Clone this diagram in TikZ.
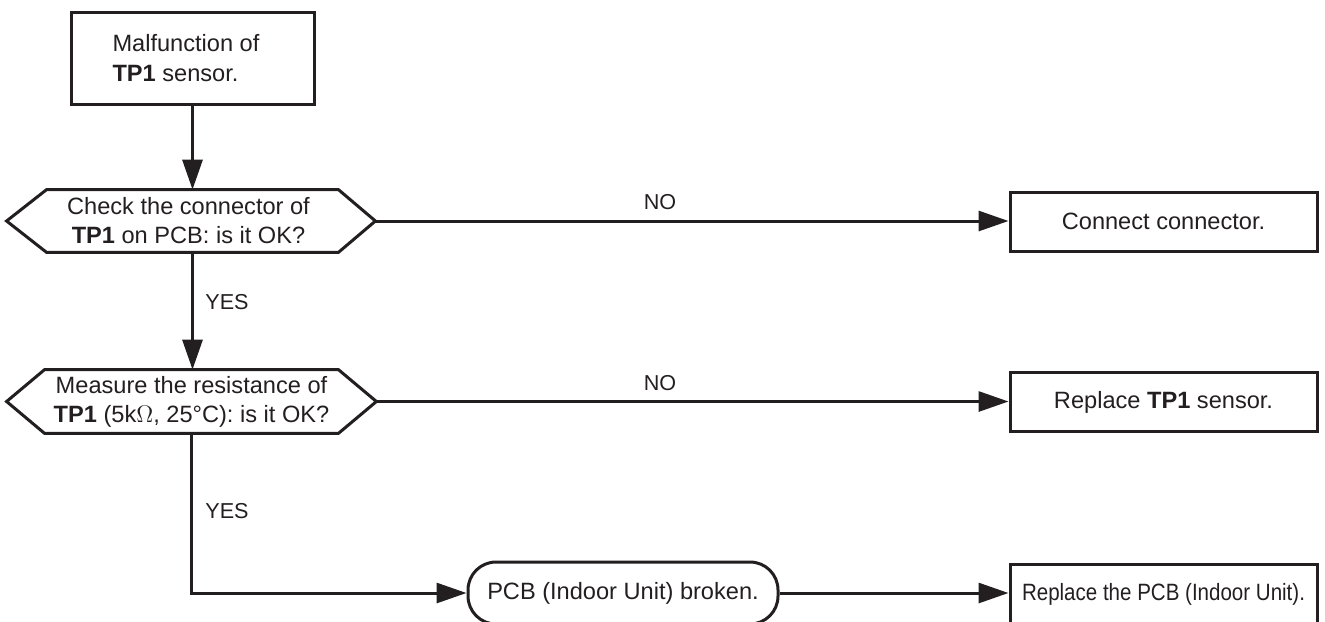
\documentclass[tikz,border=0pt]{standalone}
\usepackage{fontspec}
\setmainfont{Liberation Sans}
\usetikzlibrary{arrows.meta}
\definecolor{ink}{RGB}{35,31,32}
\begin{document}
\begin{tikzpicture}[x=0.5pt,y=-0.5pt,
  every node/.style={text=ink},
  line/.style={draw=ink, line width=1.5pt},
  arr/.style={line, -{Triangle[length=15pt,width=10pt]}},
  boxtext/.style={font=\fontsize{11.8pt}{14.5pt}\selectfont},
  procbox/.style={boxtext, draw=ink, line width=1.5pt, minimum width=153.5pt, minimum height=29.5pt, inner sep=0pt},
  decbox/.style={boxtext, align=center, inner sep=0pt},
  lbl/.style={font=\fontsize{10.8pt}{13pt}\selectfont, inner sep=0pt}
]
\useasboundingbox (0,0) rectangle (1325,621);

% start box
\node[boxtext, draw=ink, line width=1.5pt, align=left, minimum width=121.5pt, minimum height=46pt, inner sep=0pt,
      font=\fontsize{11.8pt}{15pt}\selectfont] (top) at (192.5,58) {Malfunction of\kern6.5pt\\\textbf{TP1} sensor.};

% decision 1
\node[decbox, minimum width=145.5pt, minimum height=31pt] (h1) at (192.5,221)
  {Check the connector of\kern4pt\\\textbf{TP1} on PCB: is it OK?\kern4pt};
\coordinate (h1r) at ([xshift=18.5pt]h1.east);
\coordinate (h1l) at ([xshift=-20pt]h1.west);
\draw[line, line join=miter] (h1.north west) -- (h1.north east) -- (h1r) -- (h1.south east) -- (h1.south west) -- (h1l) -- cycle;

% decision 2
\node[decbox, minimum width=146.5pt, minimum height=31.5pt] (h2) at (191.5,401.5)
  {Measure the resistance of\\\textbf{TP1} (5k$\Omega$, 25°C): is it OK?};
\coordinate (h2r) at ([xshift=19pt]h2.east);
\coordinate (h2l) at ([xshift=-19pt]h2.west);
\draw[line, line join=miter] (h2.north west) -- (h2.north east) -- (h2r) -- (h2.south east) -- (h2.south west) -- (h2l) -- cycle;

% action boxes
\node[procbox] (c1) at (1163.5,221.5) {Connect connector.};
\node[procbox] (c2) at (1163.5,402) {Replace \textbf{TP1} sensor.};
\node[boxtext, draw=ink, line width=1.5pt, rounded corners=14pt, minimum width=155pt, minimum height=31pt, inner sep=0pt]
  (pcb) at (623,593) {PCB (Indoor Unit) broken.};
\node[procbox, minimum height=30pt] (c3) at (1163.5,594) {\scalebox{0.87}[1]{Replace the PCB (Indoor Unit).}};

% connectors
\draw[arr] (top.south) -- (top.south |- h1.north);
\draw[arr] (h1r) -- (h1r -| c1.west);
\draw[arr] (h1.south) -- (h1.south |- h2.north);
\draw[arr] (h2r) -- (h2r -| c2.west);
\draw[arr] (h2.south) |- (pcb.west);
\draw[arr] (pcb.east) -- (pcb.east -| c3.west);

% labels
\node[lbl] (no1) at (660,202) {NO};
\node[lbl] (no2) at (660,383) {NO};
\node[lbl] (yes1) at (227,302) {YES};
\node[lbl] (yes2) at (227,511) {YES};
\end{tikzpicture}
\end{document}
